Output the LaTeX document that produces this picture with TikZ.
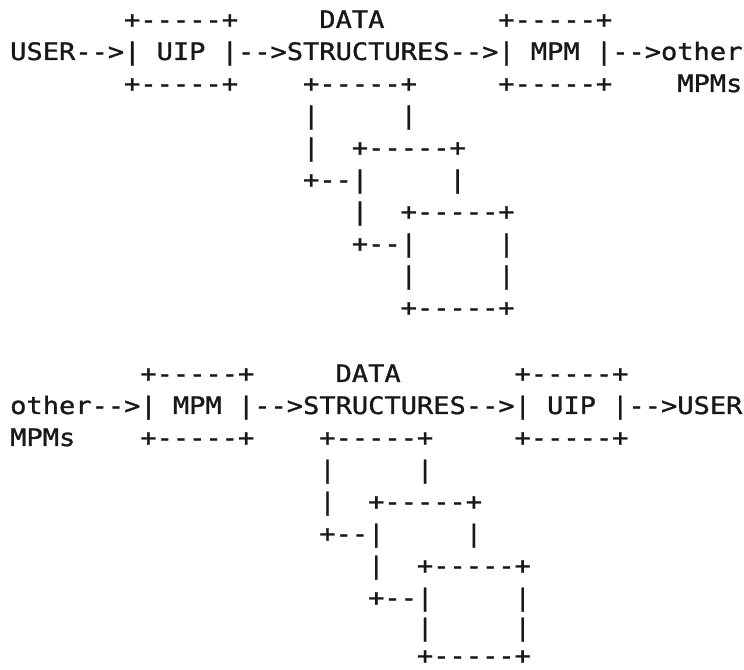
\documentclass[tikz,border=0pt]{standalone}
\usepackage{fontspec}
\usepackage{tikz}
\newfontfamily\ttyfont[FakeStretch=1.126,FakeBold=1.2]{DejaVu Sans Mono}
\definecolor{ink}{RGB}{24,24,24}

\begin{document}
\begin{tikzpicture}[>=latex,line join=bevel,
  tty/.style={anchor=base west,inner sep=0pt,text=ink,font=\ttyfont\fontsize{24.1}{32}\selectfont},]
\useasboundingbox (0bp,0bp) rectangle (744bp,670bp);
%% first half: USER -> UIP -> DATA STRUCTURES -> MPM -> other MPMs
\node (uip_a_top) at (123.89bp,642bp) [tty,draw=none] {+-----+};
  \node (ds_a_lbl) at (319.13bp,642bp) [tty,draw=none] {DATA};
  \node (mpm_a_top) at (498.1bp,642bp) [tty,draw=none] {+-----+};
  \node (user_a) at (10bp,610bp) [tty,draw=none] {USER-->};
  \node (uip_a) at (123.89bp,610bp) [tty,draw=none] {| UIP |};
  \node (ds_a) at (237.78bp,610bp) [tty,draw=none] {-->STRUCTURES-->};
  \node (mpm_a) at (498.1bp,610bp) [tty,draw=none] {| MPM |};
  \node (other_a) at (611.99bp,610bp) [tty,draw=none] {-->other};
  \node (uip_a_bot) at (123.89bp,578bp) [tty,draw=none] {+-----+};
  \node (stack_a_0) at (302.86bp,578bp) [tty,draw=none] {+-----+};
  \node (mpm_a_bot) at (498.1bp,578bp) [tty,draw=none] {+-----+};
  \node (mpms_a) at (677.07bp,578bp) [tty,draw=none] {MPMs};
  \node (stack_a_1) at (302.86bp,546bp) [tty,draw=none] {|};
  \node (stack_a_2) at (400.48bp,546bp) [tty,draw=none] {|};
  \node (stack_a_3) at (302.86bp,514bp) [tty,draw=none] {|};
  \node (stack_a_4) at (351.67bp,514bp) [tty,draw=none] {+-----+};
  \node (stack_a_5) at (302.86bp,482bp) [tty,draw=none] {+--|};
  \node (stack_a_6) at (449.29bp,482bp) [tty,draw=none] {|};
  \node (stack_a_7) at (351.67bp,450bp) [tty,draw=none] {|};
  \node (stack_a_8) at (400.48bp,450bp) [tty,draw=none] {+-----+};
  \node (stack_a_9) at (351.67bp,418bp) [tty,draw=none] {+--|};
  \node (stack_a_10) at (498.1bp,418bp) [tty,draw=none] {|};
  \node (stack_a_11) at (400.48bp,386bp) [tty,draw=none] {|};
  \node (stack_a_12) at (498.1bp,386bp) [tty,draw=none] {|};
  \node (stack_a_13) at (400.48bp,354bp) [tty,draw=none] {+-----+};
%% second half: other MPMs -> MPM -> DATA STRUCTURES -> UIP -> USER
\node (mpm_b_top) at (140.16bp,288bp) [tty,draw=none] {+-----+};
  \node (ds_b_lbl) at (335.4bp,288bp) [tty,draw=none] {DATA};
  \node (uip_b_top) at (514.37bp,288bp) [tty,draw=none] {+-----+};
  \node (other_b) at (10bp,256bp) [tty,draw=none] {other-->};
  \node (mpm_b) at (140.16bp,256bp) [tty,draw=none] {| MPM |};
  \node (ds_b) at (254.05bp,256bp) [tty,draw=none] {-->STRUCTURES-->};
  \node (uip_b) at (514.37bp,256bp) [tty,draw=none] {| UIP |};
  \node (user_b) at (628.26bp,256bp) [tty,draw=none] {-->USER};
  \node (mpms_b) at (10bp,224bp) [tty,draw=none] {MPMs};
  \node (mpm_b_bot) at (140.16bp,224bp) [tty,draw=none] {+-----+};
  \node (stack_b_0) at (319.13bp,224bp) [tty,draw=none] {+-----+};
  \node (uip_b_bot) at (514.37bp,224bp) [tty,draw=none] {+-----+};
  \node (stack_b_1) at (319.13bp,192bp) [tty,draw=none] {|};
  \node (stack_b_2) at (416.75bp,192bp) [tty,draw=none] {|};
  \node (stack_b_3) at (319.13bp,160bp) [tty,draw=none] {|};
  \node (stack_b_4) at (367.94bp,160bp) [tty,draw=none] {+-----+};
  \node (stack_b_5) at (319.13bp,128bp) [tty,draw=none] {+--|};
  \node (stack_b_6) at (465.56bp,128bp) [tty,draw=none] {|};
  \node (stack_b_7) at (367.94bp,96bp) [tty,draw=none] {|};
  \node (stack_b_8) at (416.75bp,96bp) [tty,draw=none] {+-----+};
  \node (stack_b_9) at (367.94bp,64bp) [tty,draw=none] {+--|};
  \node (stack_b_10) at (514.37bp,64bp) [tty,draw=none] {|};
  \node (stack_b_11) at (416.75bp,34bp) [tty,draw=none] {|};
  \node (stack_b_12) at (514.37bp,34bp) [tty,draw=none] {|};
  \node (stack_b_13) at (416.75bp,6bp) [tty,draw=none] {+-----+};
%
\end{tikzpicture}
\end{document}
